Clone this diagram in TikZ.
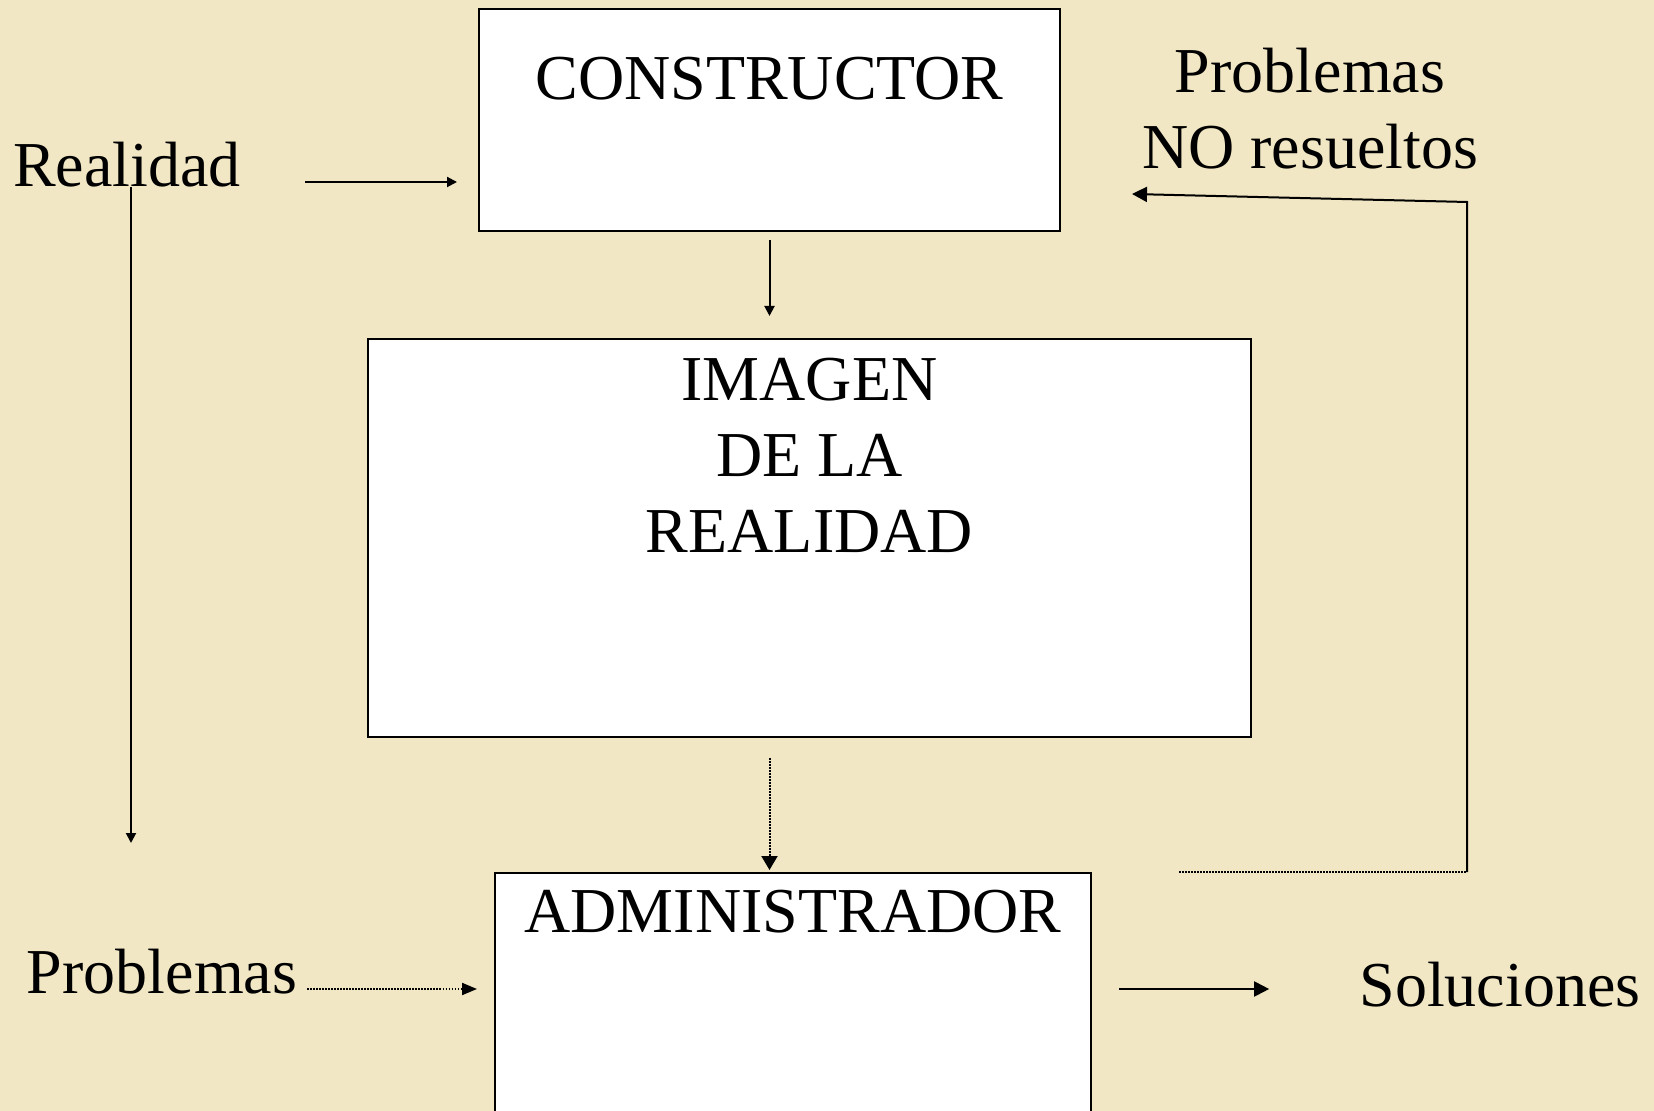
\documentclass[tikz,border=0pt]{standalone}
\usepackage{fontspec}
\setmainfont{Liberation Serif}
\usetikzlibrary{
arrows.meta,
calc,
positioning
}
\definecolor{pergamino}{RGB}{241,231,196}

\begin{document}
\begin{tikzpicture}
[x=0.5pt, y=-0.5pt,
block_normal/.style ={rectangle, draw, line width=1pt, fill=white, inner sep=0},
block_label/.style ={font=\fontsize{32}{38}\selectfont, align=center, inner sep=0, anchor=north},
text_free/.style ={font=\fontsize{32}{38}\selectfont, align=center, inner sep=0},
line_inner/.style ={draw, line width=1pt, -{Triangle[length=5pt, width=5pt]}},
line_outer/.style ={draw, line width=1pt, -{Triangle[length=7.5pt, width=7.5pt]}},
line_dotted/.style ={draw, line width=1pt, dash pattern=on 0.75pt off 0.75pt}
]

%%%Hintergrund%%%
\clip (0,0) rectangle (1654,1111);
\fill[pergamino] (0,0) rectangle (1654,1111);

%%%Bloecke%%%
\node [block_normal, minimum width=290.5pt, minimum height=111pt,
  label={[block_label, name=constructor_txt, yshift=-24.5pt]north:CONSTRUCTOR}] (constructor) at (769.5,120) {};
\node [block_normal, minimum width=441.5pt, minimum height=199pt,
  label={[block_label, name=imagen_txt, yshift=-10pt]north:IMAGEN\\DE LA\\REALIDAD}] (imagen) at (809.5,538) {};
\node [block_normal, minimum width=298pt, minimum height=128.5pt,
  label={[block_label, name=administrador_txt, yshift=-9pt]north:ADMINISTRADOR}] (administrador) at (793,1001.5) {};

%%%Texte%%%
\node [text_free, anchor=base] (realidad) at (127,187) {Realidad};
\node [text_free, anchor=base] (problemas) at (162,993) {Problemas};
\node [text_free, anchor=base] (soluciones) at (1500,1006) {Soluciones};
\node [text_free, anchor=north] (noresueltos) at (1310,48) {Problemas\\NO resueltos};

%%%Pfeile%%%
\coordinate (realidad_out) at (305,182);
\coordinate (realidad_abajo) at (131,843);
\coordinate (retorno_abajo) at (1467,872);
\coordinate (retorno_arriba) at (1467,202);
\coordinate (retorno_fin) at (1132,194);

\draw[line_inner] (realidad_out) -- ([xshift=-10.5pt]constructor.west |- realidad_out);
\draw[line_inner] (realidad.base -| realidad_abajo) -- (realidad_abajo);
\draw[line_inner, shorten <=4pt, shorten >=11pt] (constructor.south) -- (constructor.south |- imagen.north);
\draw[line_dotted, -{Triangle[length=7pt, width=8pt]}, shorten <=10pt, shorten >=1pt] (constructor.south |- imagen.south) -- (constructor.south |- administrador.north);
\draw[line_dotted, -{Triangle[length=7.5pt, width=6pt]}] ([xshift=5pt, yshift=2pt]problemas.base east) coordinate (problemas_out) -- ([xshift=-8.5pt]administrador.west |- problemas_out);
\draw[line_outer] ([xshift=13.5pt]administrador.east |- problemas_out) -- ([xshift=-45pt]soluciones.west |- problemas_out);
\draw[line_dotted] ([xshift=43.5pt]administrador.north east) -- (retorno_abajo);
\draw[line_outer] (retorno_abajo) -- (retorno_arriba) -- (retorno_fin);

\end{tikzpicture}
\end{document}
